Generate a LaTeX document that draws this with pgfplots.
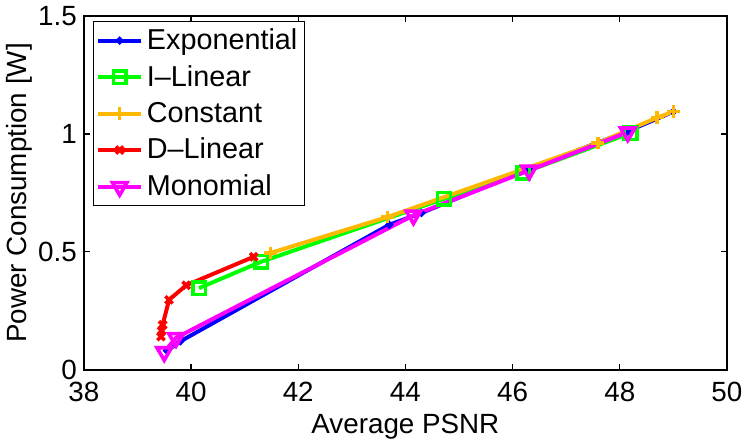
\documentclass[border=0pt]{standalone}
\usepackage{pgfplots}
\pgfplotsset{compat=1.18}
\usepackage{fontspec}
\setmainfont{Liberation Sans}
\definecolor{mblue}{rgb}{0,0,1}
\definecolor{mgreen}{rgb}{0,1,0}
\definecolor{morange}{rgb}{1,0.72,0}
\definecolor{mred}{rgb}{1,0,0}
\definecolor{mmag}{rgb}{1,0,1}
\begin{document}
\begin{tikzpicture}
\begin{axis}[
  scale only axis,
  width=324pt, height=178pt,
  xmin=38, xmax=50, ymin=0, ymax=1.5,
  xtick={38,40,...,50},
  ytick={0,0.5,1,1.5},
  yticklabels={0,0.5,1,1.5},
  tick align=inside,
  major tick length=3pt,
  axis line style={line width=1pt},
  every tick/.style={black, line width=0.6pt},
  tick label style={font=\fontsize{14}{16}\selectfont},
  xticklabel style={yshift=-3pt},
  /pgf/number format/assume math mode=true,
  label style={font=\fontsize{14}{16}\selectfont},
  xlabel={Average PSNR},
  ylabel={Power Consumption [W]},
  xlabel style={yshift=1pt},
  ylabel style={yshift=-4pt},
  legend style={at={(0.014,0.986)}, anchor=north west, draw=black, line width=0.5pt,
    font=\fontsize{14.5}{17}\selectfont, inner sep=1.5pt, row sep=2.5pt},
  legend cell align=left,
  legend image code/.code={\draw[#1, mark=none] (0pt,0pt) -- (21.5pt,0pt);
     \draw[#1, only marks] plot coordinates {(10.75pt,0pt)};},
  every axis plot/.append style={line width=2pt},
]
\addplot[color=mblue, mark=*, mark size=0.8pt] coordinates {
  (39.55,0.08) (39.8,0.12) (43.7,0.615) (44.3,0.665) (46.3,0.852) (48.15,1.012) (49.0,1.095)};
\addlegendentry{Exponential}
\addplot[color=mgreen, mark=square, mark size=3.2pt, mark options={fill=white, line width=1.8pt}] coordinates {
  (40.15,0.346) (41.31,0.458) (44.72,0.725) (46.2,0.836) (48.2,1.004)};
\addlegendentry{I--Linear}
\addplot[color=morange, mark=+, mark size=3.2pt, mark options={line width=1.8pt}] coordinates {
  (41.48,0.495) (43.67,0.648) (47.59,0.962) (48.7,1.07) (49.0,1.095)};
\addlegendentry{Constant}
\addplot[color=mred, mark=x, mark size=2.6pt, mark options={line width=1.8pt}] coordinates {
  (39.44,0.14) (39.45,0.165) (39.47,0.19) (39.59,0.296) (39.91,0.358) (41.17,0.479)};
\addlegendentry{D--Linear}
\addplot[color=mmag, mark=triangle, mark size=4.2pt, mark options={rotate=180, fill=white, line width=1.8pt}] coordinates {
  (39.5,0.075) (39.72,0.135) (44.15,0.655) (46.31,0.846) (48.15,1.008)};
\addlegendentry{Monomial}
\end{axis}
\end{tikzpicture}
\end{document}
